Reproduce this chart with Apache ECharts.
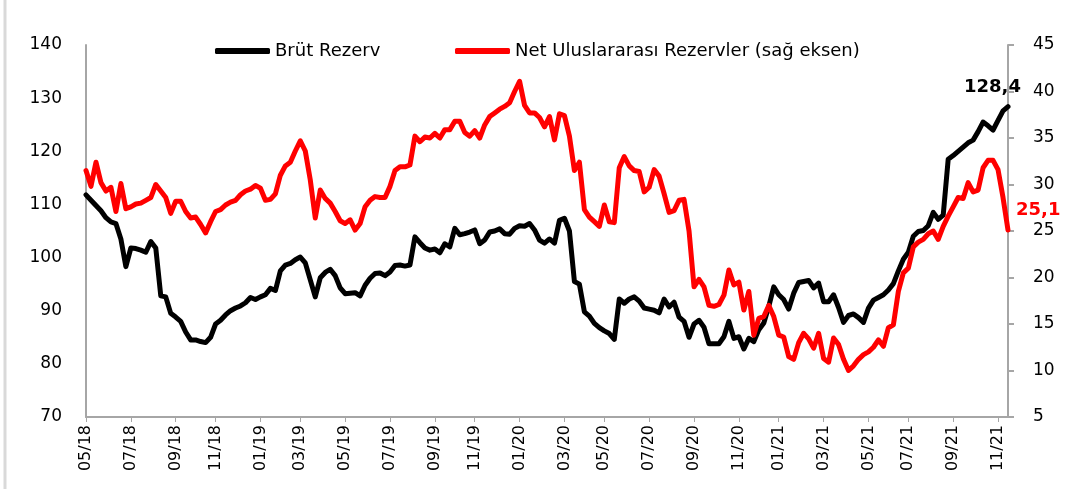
<!DOCTYPE html>
<html>
<head>
<meta charset="utf-8">
<script src="https://cdn.jsdelivr.net/npm/echarts@6/dist/echarts.min.js"></script>
<style>
  html, body { margin: 0; padding: 0; background: #fff; }
  #chart { width: 1089px; height: 489px; }
</style>
</head>
<body>
<div id="chart"></div>
<script>
/* Brüt rezerv vs net uluslararası rezervler, haftalık (milyar $) */
(function () {
  'use strict';

  // ---- data (one value per week from 04.05.2018) ----
  var brutRezerv = [
    111.8, 110.8, 109.8, 108.8, 107.5, 106.7, 106.4, 103.5, 98.3, 101.8,
    101.7, 101.4, 101.0, 103.0, 101.8, 92.8, 92.6, 89.5, 88.8, 88.0,
    86.0, 84.5, 84.5, 84.2, 84.0, 85.0, 87.5, 88.2, 89.2, 90.0,
    90.5, 90.9, 91.5, 92.5, 92.1, 92.6, 93.0, 94.2, 93.8, 97.5,
    98.6, 98.9, 99.6, 100.1, 99.0, 95.8, 92.6, 96.2, 97.2, 97.8,
    96.6, 94.3, 93.2, 93.3, 93.4, 92.8, 94.8, 96.1, 97.0, 97.1,
    96.6, 97.3, 98.5, 98.6, 98.4, 98.6, 103.9, 102.8, 101.8, 101.4,
    101.6, 100.9, 102.6, 102.0, 105.5, 104.3, 104.5, 104.8, 105.2, 102.6,
    103.3, 104.8, 105.0, 105.4, 104.5, 104.4, 105.5, 106.0, 105.9, 106.4,
    105.2, 103.3, 102.7, 103.5, 102.7, 107.0, 107.4, 105.0, 95.5, 95.0,
    89.8, 89.0, 87.6, 86.8, 86.2, 85.7, 84.6, 92.2, 91.4, 92.2,
    92.6, 91.8, 90.5, 90.3, 90.1, 89.6, 92.2, 90.7, 91.6, 88.8,
    88.0, 85.0, 87.5, 88.2, 86.9, 83.8, 83.8, 83.8, 85.1, 88.0,
    84.8, 85.1, 82.8, 84.8, 84.2, 86.4, 87.7, 90.8, 94.5, 93.0,
    92.1, 90.3, 93.3, 95.3, 95.5, 95.7, 94.3, 95.2, 91.7, 91.7,
    93.0, 90.6, 87.8, 89.1, 89.4, 88.7, 87.8, 90.5, 92.0, 92.5,
    93.0, 93.9, 95.1, 97.5, 99.7, 101.0, 104.0, 104.9, 105.1, 106.0,
    108.5, 107.2, 108.0, 118.5, 119.2, 120.0, 120.8, 121.6, 122.1, 123.7,
    125.5, 124.8, 124.0, 125.8, 127.6, 128.4
  ];
  var netRezerv = [
    31.5, 29.8, 32.4, 30.2, 29.3, 29.7, 27.1, 30.1, 27.4, 27.6,
    27.9, 28.0, 28.3, 28.6, 30.0, 29.3, 28.6, 26.9, 28.2, 28.2,
    27.1, 26.4, 26.5, 25.7, 24.8, 26.0, 27.1, 27.3, 27.8, 28.1,
    28.3, 28.9, 29.3, 29.5, 29.9, 29.6, 28.3, 28.4, 29.0, 31.0,
    32.0, 32.4, 33.6, 34.7, 33.6, 30.5, 26.4, 29.4, 28.5, 28.0,
    27.1, 26.1, 25.8, 26.2, 25.1, 25.8, 27.6, 28.3, 28.7, 28.6,
    28.6, 29.8, 31.5, 31.9, 31.9, 32.1, 35.2, 34.6, 35.1, 35.0,
    35.5, 35.0, 35.9, 35.9, 36.8, 36.8, 35.6, 35.2, 35.8, 35.0,
    36.4, 37.3, 37.7, 38.1, 38.4, 38.8, 40.0, 41.1, 38.5, 37.7,
    37.7, 37.2, 36.2, 37.3, 34.8, 37.6, 37.4, 35.2, 31.5, 32.4,
    27.3, 26.5, 26.0, 25.5, 27.8, 26.0, 25.9, 31.8, 33.0, 32.0,
    31.5, 31.4, 29.2, 29.7, 31.6, 30.9, 29.0, 27.0, 27.2, 28.3,
    28.4, 25.0, 19.0, 19.8, 19.0, 17.0, 16.9, 17.1, 18.1, 20.8,
    19.2, 19.5, 16.5, 18.5, 13.8, 15.6, 15.8, 17.0, 15.8, 13.8,
    13.6, 11.5, 11.2, 13.0, 14.0, 13.4, 12.4, 14.0, 11.3, 10.9,
    13.5, 12.8, 11.2, 10.0, 10.5, 11.2, 11.7, 12.0, 12.5, 13.3,
    12.6, 14.6, 14.9, 18.5, 20.5, 21.0, 23.3, 23.8, 24.1, 24.7,
    25.0, 24.1, 25.5, 26.6, 27.6, 28.6, 28.5, 30.2, 29.2, 29.4,
    31.8, 32.6, 32.6, 31.6, 28.6, 25.1
  ];
  var tickLabels = [
    '05/18', '07/18', '09/18', '11/18', '01/19', '03/19', '05/19', '07/19',
    '09/19', '11/19', '01/20', '03/20', '05/20', '07/20', '09/20', '11/20',
    '01/21', '03/21', '05/21', '07/21', '09/21', '11/21'
  ];

  // weekly dates (Fridays)
  var weeks = [];
  for (var i = 0; i < brutRezerv.length; i++) {
    var d = new Date(Date.UTC(2018, 4, 4 + 7 * i));
    weeks.push(d.toISOString().slice(0, 10));
  }
  function shortLabel(v) { return v.slice(5, 7) + '/' + v.slice(2, 4); }
  // first week of each listed month carries the tick
  function isTick(idx, v) {
    return Number(v.slice(8, 10)) <= 7 && tickLabels.indexOf(shortLabel(v)) !== -1;
  }
  function comma(p) { return Number(p.value).toFixed(1).replace('.', ','); }

  var FONT = 'DejaVu Sans';
  var AXIS_GREY = '#a6a6a6';

  var chart = echarts.init(document.getElementById('chart'));
  chart.setOption({
    animation: false,
    backgroundColor: '#fff',
    textStyle: { fontFamily: FONT },
    graphic: [{
      type: 'line', shape: { x1: 5, y1: 0, x2: 5, y2: 489 },
      style: { stroke: '#d9d9d9', lineWidth: 3 }
    }],
    legend: [{
      data: ['Brüt Rezerv'], left: 210, top: 37, icon: 'roundRect',
      itemWidth: 55, itemHeight: 6, itemGap: 5,
      textStyle: { fontSize: 18, color: '#000', fontFamily: FONT }
    }, {
      data: ['Net Uluslararası Rezervler (sağ eksen)'], left: 450, top: 37, icon: 'roundRect',
      itemWidth: 55, itemHeight: 6, itemGap: 5,
      textStyle: { fontSize: 18, color: '#000', fontFamily: FONT }
    }],
    grid: { left: 86, right: 81, top: 45, bottom: 72, containLabel: false },
    xAxis: {
      type: 'category', data: weeks, boundaryGap: false,
      axisLine: { lineStyle: { color: AXIS_GREY, width: 2 } },
      axisTick: { interval: isTick, length: 5, lineStyle: { color: AXIS_GREY, width: 1 } },
      axisLabel: {
        interval: isTick, rotate: 90, margin: 8, color: '#000',
        fontSize: 16, fontFamily: FONT, formatter: shortLabel
      },
      splitLine: { show: false }
    },
    yAxis: [{
      type: 'value', min: 70, max: 140, interval: 10, position: 'left',
      axisLine: { show: true, lineStyle: { color: AXIS_GREY, width: 2 } },
      axisTick: { show: false },
      axisLabel: { color: '#000', fontSize: 17, margin: 24, fontFamily: FONT },
      splitLine: { show: false }
    }, {
      type: 'value', min: 5, max: 45, interval: 5, position: 'right',
      axisLine: { show: true, lineStyle: { color: AXIS_GREY, width: 2 } },
      axisTick: { show: true, length: 6, lineStyle: { color: AXIS_GREY, width: 2 } },
      axisLabel: { color: '#000', fontSize: 17, margin: 25, fontFamily: FONT },
      splitLine: { show: false }
    }],
    series: [{
      name: 'Brüt Rezerv', type: 'line', yAxisIndex: 0, data: brutRezerv,
      showSymbol: false, symbol: 'none', color: '#000',
      lineStyle: { color: '#000', width: 5, cap: 'round', join: 'round' },
      endLabel: {
        show: true, formatter: comma, offset: [-49, -19], distance: 5,
        color: '#000', fontWeight: 'bold', fontSize: 18, fontFamily: FONT
      }
    }, {
      name: 'Net Uluslararası Rezervler (sağ eksen)', type: 'line', yAxisIndex: 1, data: netRezerv,
      showSymbol: false, symbol: 'none', color: '#ff0000',
      lineStyle: { color: '#ff0000', width: 5, cap: 'round', join: 'round' },
      endLabel: {
        show: true, formatter: comma, offset: [3, -20], distance: 5,
        color: '#ff0000', fontWeight: 'bold', fontSize: 18, fontFamily: FONT
      }
    }]
  });

  window.addEventListener('resize', function () { chart.resize(); });
})();
</script>
</body>
</html>
